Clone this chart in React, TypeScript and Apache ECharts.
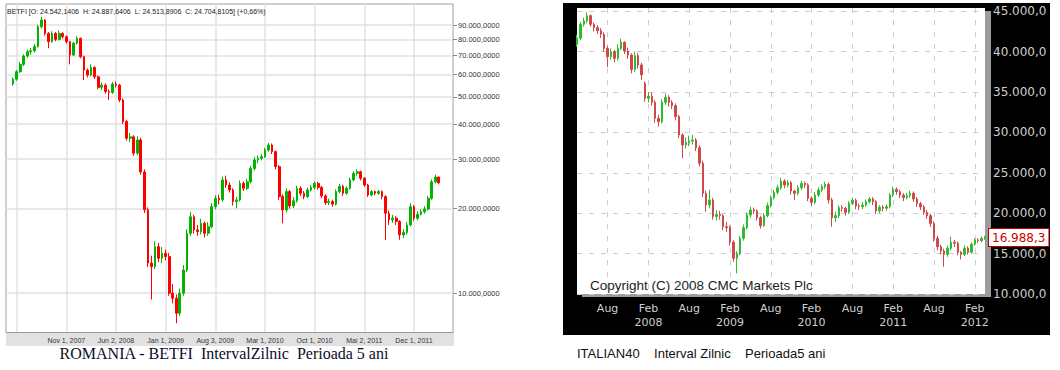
import React, { useEffect, useRef } from "react";
import * as echarts from "echarts";

// ---------- DATA ----------
// half-monthly candles, 2007-03-16 .. 2012-03-16 ; rows are [open, close, low, high]
const betfiStart = "2007-03-16";
const betfiOHLC: number[][] = [
  [55500, 57700, 54800, 58600], [57700, 61400, 57000, 62300], [61400, 65200, 60800, 66400], [65200, 69800, 64300, 70800],
  [69800, 72300, 68900, 73500], [72300, 72900, 70600, 74500], [72900, 75400, 71900, 77000], [75400, 88800, 74800, 90200],
  [88800, 93700, 87500, 96200], [93700, 84000, 82500, 94500], [84000, 78500, 74400, 85000], [78500, 84000, 77800, 85500],
  [84000, 80000, 78800, 84900], [80000, 84000, 79300, 86000], [84000, 81800, 80500, 84800], [81800, 78500, 77300, 82600],
  [78500, 70400, 65200, 79000], [70400, 77500, 69800, 78300], [77500, 80700, 76800, 82000], [80700, 69400, 68500, 81200],
  [69400, 62200, 57300, 70000], [62200, 59700, 58600, 63000], [59700, 63600, 59000, 65200], [63600, 58900, 57800, 64200],
  [58900, 54000, 53200, 59500], [54000, 55000, 52800, 56200], [55000, 52200, 51300, 55800], [52200, 51800, 48700, 53100],
  [51800, 55500, 51200, 56400], [55500, 55000, 53900, 56700], [55000, 48700, 47900, 55600], [48700, 40800, 40000, 49300],
  [40800, 35600, 34900, 41400], [35600, 36000, 34500, 37200], [36000, 31500, 30800, 36500], [31500, 35100, 31000, 36200],
  [35100, 27000, 26400, 35800], [27000, 19800, 19300, 27600], [19800, 12800, 12400, 20200], [12800, 12430, 9500, 13600],
  [12430, 14640, 12200, 15300], [14640, 13320, 12900, 15100], [13320, 13860, 12800, 14600], [13860, 13500, 13100, 14300],
  [13500, 10000, 9800, 13900], [10000, 9600, 9200, 10800], [9600, 8490, 7820, 9900], [8490, 10000, 8300, 10400],
  [10000, 12100, 9800, 12600], [12100, 16340, 11900, 16900], [16340, 18700, 16000, 19500], [18700, 16800, 16300, 19000],
  [16800, 16570, 16000, 17500], [16570, 17730, 16200, 18400], [17730, 16340, 15800, 18000], [16340, 17240, 16000, 17900],
  [17240, 20320, 17000, 20900], [20320, 21770, 19900, 22300], [21770, 21500, 20700, 22400], [21500, 25300, 21200, 26000],
  [25300, 24270, 23700, 26200], [24270, 23300, 22800, 24800], [23300, 21200, 20500, 23600], [21200, 21470, 20060, 22000],
  [21470, 24600, 21200, 25200], [24600, 23620, 23100, 25000], [23620, 24900, 23300, 25500], [24900, 27800, 24600, 28400],
  [27800, 29800, 27300, 30500], [29800, 30200, 29000, 30900], [30200, 30600, 29700, 31300], [30600, 32330, 30300, 32900],
  [32330, 33680, 31900, 34300], [33680, 31900, 31300, 34100], [31900, 28200, 27600, 32200], [28200, 22070, 21500, 28600],
  [22070, 19780, 17730, 22500], [19780, 22990, 19400, 23600], [22990, 20450, 20000, 23300], [20450, 21330, 20100, 22000],
  [21330, 23620, 21000, 24100], [23620, 22680, 22200, 24000], [22680, 22070, 21600, 23100], [22070, 23300, 21800, 23700],
  [23300, 23800, 23000, 24300], [23800, 24600, 23400, 25000], [24600, 23800, 23400, 24900], [23800, 22200, 21800, 24100],
  [22200, 21000, 20600, 22500], [21000, 21200, 20600, 21700], [21200, 20750, 20300, 21500], [20750, 22990, 20500, 23400],
  [22990, 24000, 22700, 24500], [24000, 22680, 22200, 24300], [22680, 23620, 22400, 24000], [23620, 25300, 23400, 25800],
  [25300, 26700, 25000, 27200], [26700, 27050, 26200, 27600], [27050, 25650, 25200, 27300], [25650, 24270, 23900, 25900],
  [24270, 22370, 22000, 24500], [22370, 22990, 22100, 23300], [22990, 22680, 22300, 23200], [22680, 22990, 22400, 23300],
  [22990, 22070, 21600, 23200], [22070, 19250, 15470, 22300], [19250, 18230, 17500, 19700], [18230, 18490, 17800, 19000],
  [18490, 17990, 17500, 18800], [17990, 16120, 15500, 18200], [16120, 16440, 15700, 16900], [16440, 17500, 16200, 17900],
  [17500, 20320, 17300, 20900], [20320, 18490, 18100, 20600], [18490, 19100, 18200, 19600], [19100, 19500, 18900, 19900],
  [19500, 19940, 19200, 20400], [19940, 21770, 19700, 22200], [21770, 24900, 21500, 25400], [24900, 25900, 24600, 26400],
  [25900, 24704.81, 24400, 26000],
];
const betfiAxisStart = "2007-02-16";
const betfiAxisCount = 127;
const betfiTickDates = ["2007-11-01", "2008-06-01", "2009-01-01", "2009-08-01", "2010-03-01", "2010-10-01", "2011-05-01", "2011-12-01"];
const betfiTickLabels = ["Nov 1, 2007", "Jun 2, 2008", "Jan 1, 2009", "Aug 3, 2009", "Mar 1, 2010", "Oct 1, 2010", "Mai 2, 2011", "Dec 1, 2011"];
const betfiGridDates = ["2007-04-01", ...betfiTickDates];
const betfiYTicks = [10000, 20000, 30000, 40000, 50000, 60000, 70000, 80000, 90000];
const betfiYMin = 7250;
const betfiYMax = 106900;
const betfiTitle = "BETFI [O: 24.542,1406  H: 24.887,6406  L: 24.513,8906  C: 24.704,8105] (+0,66%)";
const betfiCaption = "ROMANIA - BETFI  IntervalZilnic  Perioada 5 ani";

const italyStart = "2007-03-16";
const italyOHLC: number[][] = [
  [40900, 41650, 40600, 42100], [41650, 43380, 41400, 43700], [43380, 43800, 43100, 44200], [43800, 44450, 43500, 44870],
  [44450, 43380, 43100, 44600], [43380, 42970, 42500, 43600], [42970, 42600, 42200, 43300], [42600, 42140, 41700, 42900],
  [42140, 40410, 40000, 42400], [40410, 39380, 38100, 40700], [39380, 39990, 39000, 40400], [39990, 39170, 38700, 40200],
  [39170, 40410, 38900, 40900], [40410, 41150, 40200, 41600], [41150, 40080, 39700, 41300], [40080, 39580, 39100, 40500],
  [39580, 37800, 37300, 39800], [37800, 39500, 37500, 40000], [39500, 38350, 37900, 39800], [38350, 37110, 36500, 38600],
  [36080, 34220, 33800, 36300], [34220, 34500, 33700, 35000], [34500, 33720, 33300, 34900], [33720, 31740, 31200, 34000],
  [31740, 31330, 30710, 32200], [31330, 33720, 31100, 34100], [33720, 34340, 33400, 34800], [34340, 33720, 33200, 34600],
  [33720, 33310, 32900, 34000], [33310, 31950, 31500, 33600], [31950, 29680, 29300, 32200], [29680, 28440, 26800, 29900],
  [28440, 28770, 28000, 29400], [28770, 28930, 28300, 29600], [28930, 29060, 28500, 29700], [29060, 28110, 27700, 29300],
  [28110, 26180, 25800, 28400], [26180, 22460, 22000, 26500], [22460, 21020, 20190, 22800], [21020, 21640, 20600, 22900],
  [21640, 19580, 19200, 21900], [19580, 19860, 19100, 20400], [19860, 19700, 19200, 20300], [19700, 18330, 17900, 19900],
  [18330, 18210, 17700, 18900], [18210, 16400, 16000, 18500], [16400, 14420, 14000, 16700], [14420, 15000, 12560, 15300],
  [15000, 16890, 14800, 17200], [16890, 18210, 16600, 18600], [18210, 19780, 18000, 20100], [19780, 20400, 19500, 20800],
  [20400, 20280, 19900, 20700], [20280, 19450, 19100, 20500], [19450, 18460, 18100, 19700], [18460, 19700, 18300, 20000],
  [19700, 20940, 19500, 21300], [20940, 21930, 20700, 22200], [21930, 22580, 21700, 22900], [22580, 23160, 22300, 23500],
  [23160, 23980, 22900, 24400], [23980, 23490, 23100, 24200], [23490, 23780, 23200, 24100], [23780, 22750, 22300, 24000],
  [22750, 22460, 21640, 22900], [22460, 23160, 22200, 23500], [23160, 23700, 22900, 24000], [23700, 23500, 23100, 23900],
  [23500, 21850, 21500, 23700], [21850, 21340, 20900, 22100], [21340, 22250, 21100, 22600], [22250, 22870, 22000, 23200],
  [22870, 23280, 22600, 23600], [23280, 23570, 23000, 23900], [23570, 21640, 21200, 23800], [21640, 19450, 18330, 21900],
  [19450, 19700, 18900, 20200], [19700, 20690, 19400, 21000], [20690, 20610, 20200, 21000], [20610, 20110, 19700, 20800],
  [20110, 21230, 19900, 21500], [21230, 21600, 21000, 21900], [21600, 20890, 20500, 21800], [20890, 20810, 20400, 21200],
  [20810, 21020, 20500, 21400], [21020, 21420, 20800, 21700], [21420, 21760, 21200, 22000], [21760, 21420, 21000, 22000],
  [21420, 20280, 19900, 21600], [20280, 20730, 20000, 21000], [20730, 20610, 20200, 21000], [20610, 20810, 20300, 21100],
  [20810, 22250, 20600, 22500], [22250, 22960, 22000, 23300], [22960, 22660, 22300, 23200], [22660, 22250, 21900, 22900],
  [22250, 21930, 21500, 22500], [21930, 22170, 21700, 22500], [22170, 22460, 21900, 22800], [22460, 21760, 21400, 22700],
  [21760, 21180, 20800, 22000], [21180, 20770, 20400, 21400], [20770, 20110, 19800, 21000], [20110, 19700, 19300, 20400],
  [19700, 18740, 18300, 19900], [18740, 16890, 16500, 19000], [16890, 15850, 15400, 17200], [15850, 15330, 14900, 16100],
  [15330, 14910, 13380, 15600], [14910, 15660, 14600, 16000], [15660, 16400, 15400, 17100], [16400, 16280, 15800, 16700],
  [16280, 15160, 14800, 16500], [15160, 14910, 14300, 15300], [14910, 15660, 14700, 16000], [15660, 15160, 14900, 15900],
  [15160, 16160, 15000, 16400], [16160, 16680, 16000, 16900], [16680, 16600, 16300, 16900], [16600, 16890, 16400, 17100],
  [16890, 16988.3, 16700, 17200],
];
const italyAxisStart = "2007-03-16";
const italyAxisCount = 121;
const italyTickDates = ["2007-08-01", "2008-02-01", "2008-08-01", "2009-02-01", "2009-08-01", "2010-02-01", "2010-08-01", "2011-02-01", "2011-08-01", "2012-02-01"];
const italyYTicks = [10000, 15000, 20000, 25000, 30000, 35000, 40000, 45000];
const italyYMin = 10000;
const italyYMax = 45400;
const italyCopyright = "Copyright (C) 2008 CMC Markets Plc";
const italyCaption = "ITALIAN40    Interval Zilnic    Perioada5 ani";

// ---------- HELPERS ----------
const MONTHS = ["Jan", "Feb", "Mar", "Apr", "May", "Jun", "Jul", "Aug", "Sep", "Oct", "Nov", "Dec"];

function halfMonthDates(start: string, count: number): string[] {
  let y = +start.slice(0, 4);
  let m = +start.slice(5, 7);
  let d = +start.slice(8, 10);
  const out: string[] = [];
  for (let k = 0; k < count; k++) {
    out.push(`${y}-${String(m).padStart(2, "0")}-${d === 1 ? "01" : "16"}`);
    if (d === 1) d = 16;
    else {
      d = 1;
      m += 1;
      if (m > 12) { m = 1; y += 1; }
    }
  }
  return out;
}

function fmtNum(v: number, decimals: number): string {
  const s = v.toFixed(decimals);
  const [ip, dp] = s.split(".");
  return ip.replace(/\B(?=(\d{3})+(?!\d))/g, ".") + (dp !== undefined ? "," + dp : "");
}

export default function App() {
  const ref = useRef<HTMLDivElement>(null);

  useEffect(() => {
    document.body.style.margin = "0";
    if (!ref.current) return;
    const chart = echarts.init(ref.current, undefined, { renderer: "svg" });

    const betfiCats = halfMonthDates(betfiAxisStart, betfiAxisCount);
    const betfiDates = halfMonthDates(betfiStart, betfiOHLC.length);
    const betfiMap = new Map<string, number[]>();
    betfiDates.forEach((d, i) => betfiMap.set(d, betfiOHLC[i]));
    const betfiSeries = betfiCats.map((d) => {
      const r = betfiMap.get(d);
      return r ? r.map((v) => Math.log10(v)) : "-";
    });
    const betfiLogTicks = betfiYTicks.map((v) => Math.log10(v));

    const italyCats = halfMonthDates(italyAxisStart, italyAxisCount);
    const italyDates = halfMonthDates(italyStart, italyOHLC.length);
    const italyMap = new Map<string, number[]>();
    italyDates.forEach((d, i) => italyMap.set(d, italyOHLC[i]));
    const italySeries = italyCats.map((d) => italyMap.get(d) || "-");
    const italyLast = italyOHLC[italyOHLC.length - 1][1];

    const option: any = {
      animation: false,
      graphic: {
        elements: [
          { type: "rect", z: -20, shape: { x: 563, y: 3, width: 487, height: 332 }, style: { fill: "#000" } },
          { type: "rect", z: -10, shape: { x: 582, y: 11, width: 409, height: 286 }, style: { fill: "#9c9c9c" } },
          { type: "rect", z: -10, shape: { x: 6, y: 332.5, width: 448, height: 13.5 }, style: { fill: "#e1e1e1" } },
          {
            type: "text", x: 7, y: 11, z: 10,
            style: { text: betfiTitle, fill: "#222", fontSize: 7, fontFamily: "Liberation Sans Narrow, Liberation Sans, Arial", verticalAlign: "middle" },
          },
          {
            type: "text", x: 590, y: 285, z: 10,
            style: { text: italyCopyright, fill: "#1e1e1e", fontSize: 13.5, fontFamily: "Liberation Sans, Arial", verticalAlign: "middle" },
          },
          {
            type: "text", x: 224, y: 353, z: 10,
            style: { text: betfiCaption, fill: "#0c0c2a", fontSize: 16, fontFamily: "Liberation Serif, Times New Roman", align: "center", verticalAlign: "middle" },
          },
          {
            type: "text", x: 577, y: 353, z: 10,
            style: { text: italyCaption, fill: "#111", fontSize: 13, fontFamily: "Liberation Sans, Arial", verticalAlign: "middle" },
          },
        ],
      },
      grid: [
        { left: 6, top: 4, width: 447, height: 328.5, show: true, borderColor: "#a0a0a0", borderWidth: 1, backgroundColor: "transparent" },
        { left: 577, top: 8, width: 408, height: 286, show: true, backgroundColor: "#fff", borderWidth: 0 },
      ],
      xAxis: [
        {
          type: "category", gridIndex: 0, data: betfiCats, boundaryGap: false,
          axisLine: { show: true, lineStyle: { color: "#9a9a9a" } },
          axisTick: { show: false },
          axisLabel: {
            interval: (_i: number, v: string) => betfiTickDates.includes(v),
            formatter: (v: string) => betfiTickLabels[betfiTickDates.indexOf(v)] || "",
            fontSize: 7, color: "#333", margin: 4.5, fontFamily: "Liberation Sans Narrow, Liberation Sans, Arial",
          },
          splitLine: { show: true, interval: (_i: number, v: string) => betfiGridDates.includes(v), lineStyle: { color: "#e2e2e2", width: 1.5 } },
        },
        {
          type: "category", gridIndex: 1, data: italyCats, boundaryGap: false,
          axisLine: { show: false }, axisTick: { show: false },
          axisLabel: {
            interval: (_i: number, v: string) => italyTickDates.includes(v),
            formatter: (v: string) => {
              const m = +v.slice(5, 7);
              return m === 2 ? `${MONTHS[m - 1]}\n${v.slice(0, 4)}` : MONTHS[m - 1];
            },
            fontSize: 11, lineHeight: 14, color: "#cfcfcf", margin: 7, fontFamily: "DejaVu Sans, Verdana",
          },
          splitLine: { show: true, interval: (_i: number, v: string) => italyTickDates.includes(v), lineStyle: { color: "#cccccc", type: [5, 7] } },
        },
      ],
      yAxis: [
        {
          type: "value", gridIndex: 0, position: "right", scale: true,
          min: Math.log10(betfiYMin), max: Math.log10(betfiYMax),
          axisLine: { show: false },
          axisTick: { show: true, customValues: betfiLogTicks, length: 4, lineStyle: { color: "#888" } },
          axisLabel: {
            customValues: betfiLogTicks,
            formatter: (v: number) => fmtNum(Math.round(Math.pow(10, v)), 4),
            fontSize: 7.5, color: "#333", margin: 5, fontFamily: "Liberation Sans, Arial",
          },
          splitLine: { show: true, lineStyle: { color: "#e2e2e2", width: 1.5 } },
        },
        {
          type: "value", gridIndex: 1, position: "right", min: italyYMin, max: italyYMax,
          axisLine: { show: false },
          axisTick: { show: false, customValues: italyYTicks },
          axisLabel: {
            customValues: italyYTicks,
            formatter: (v: number) => fmtNum(v, 1),
            fontSize: 12, color: "#cfcfcf", margin: 8, fontFamily: "DejaVu Sans, Verdana",
          },
          splitLine: { show: true, lineStyle: { color: "#cccccc", type: [5, 7] } },
        },
      ],
      series: [
        {
          type: "candlestick", xAxisIndex: 0, yAxisIndex: 0, data: betfiSeries, barWidth: 2.2,
          itemStyle: { color: "#00b400", color0: "#ff0000", borderColor: "#00b400", borderColor0: "#ff0000", borderWidth: 1 },
        },
        {
          type: "candlestick", xAxisIndex: 1, yAxisIndex: 1, data: italySeries, barWidth: 1.8,
          itemStyle: { color: "#2fbb2f", color0: "#d04848", borderColor: "#2fbb2f", borderColor0: "#d04848", borderWidth: 1 },
          markLine: {
            silent: true, symbol: ["none", "none"],
            lineStyle: { color: "rgba(0,0,0,0)", width: 0, type: "solid" },
            data: [{ yAxis: italyLast }],
            label: {
              show: true, position: "end", distance: 4,
              formatter: () => fmtNum(italyLast, 1),
              color: "#d00000", backgroundColor: "#fff", borderColor: "#c00000", borderWidth: 1,
              padding: [3, 3, 2, 3], fontSize: 12, fontFamily: "DejaVu Sans, Verdana",
            },
          },
        },
      ],
    };
    chart.setOption(option);
    return () => chart.dispose();
  }, []);

  return <div ref={ref} style={{ position: "absolute", left: 0, top: 0, width: 1060, height: 370 }} />;
}
